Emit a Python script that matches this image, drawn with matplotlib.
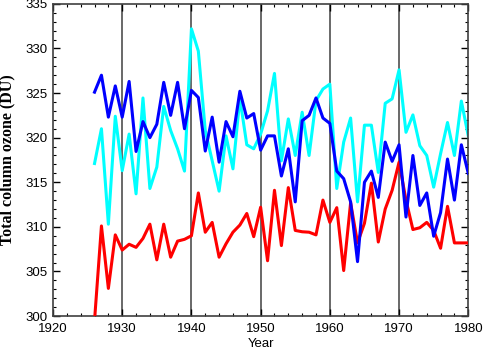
import numpy as np
import matplotlib
matplotlib.use("Agg")
import matplotlib.pyplot as plt
from matplotlib.ticker import MultipleLocator

years = np.arange(1926, 1981)

cyan_vals = [317.1, 321.0, 310.3, 322.4, 316.3, 320.4, 313.7, 324.45, 314.3, 316.7,
             323.5, 320.8, 318.75, 316.25, 332.2, 329.7, 320.8, 317.4, 314.0, 320.2,
             316.5, 324.4, 319.2, 318.75, 320.4, 323.0, 327.2, 317.4, 322.1, 318.0,
             322.85, 318.0, 324.15, 325.45, 326.0, 314.3, 319.5, 322.2, 312.8, 321.4,
             321.4, 316.1, 323.85, 324.35, 327.6, 320.6, 322.55, 319.1, 318.0, 314.45,
             318.2, 321.7, 318.0, 324.1, 320.2]

blue_vals = [325.1, 327.0, 322.3, 325.8, 322.3, 326.3, 318.45, 321.8, 320.0, 321.5,
             326.2, 322.5, 326.2, 321.0, 325.3, 324.5, 318.5, 322.3, 317.25, 321.8,
             320.1, 325.2, 322.2, 322.7, 318.6, 320.2, 320.2, 315.7, 318.75, 312.8,
             321.9, 322.5, 324.45, 322.2, 321.6, 316.25, 315.4, 312.8, 306.1, 315.0,
             316.25, 313.3, 319.5, 317.35, 319.2, 311.1, 318.0, 312.4, 313.8, 308.95,
             311.6, 317.6, 313.0, 319.2, 316.0]

red_vals = [299.5, 310.1, 303.1, 309.1, 307.4, 308.05, 307.7, 308.7, 310.3, 306.3,
            310.3, 306.6, 308.4, 308.6, 309.0, 313.8, 309.4, 310.5, 306.6, 308.1,
            309.4, 310.2, 311.5, 308.9, 312.2, 306.2, 314.1, 307.9, 314.4, 309.6,
            309.45, 309.4, 309.1, 313.0, 310.5, 312.15, 305.1, 312.7, 308.2, 310.4,
            314.9, 308.3, 312.0, 314.1, 317.25, 313.0, 309.7, 309.9, 310.5, 309.6,
            307.6, 312.3, 308.2, 308.2, 308.2]

decades = [1930, 1940, 1950, 1960, 1970]

fig = plt.figure(figsize=(4.84, 3.5), dpi=100)
ax = fig.add_axes([0.1095, 0.097, 0.858, 0.892])

for d in decades:
    ax.axvline(d, color="0.25", lw=1.1, zorder=1)

ax.plot(years, cyan_vals, color="#00FFFF", lw=2.2, zorder=2)
ax.plot(years, red_vals, color="#FF0000", lw=2.2, zorder=3)
ax.plot(years, blue_vals, color="#0000FF", lw=2.2, zorder=4)

ax.set_xlim(1920, 1980)
ax.set_ylim(300, 335)
ax.xaxis.set_major_locator(MultipleLocator(10))
ax.xaxis.set_minor_locator(MultipleLocator(2))
ax.yaxis.set_major_locator(MultipleLocator(5))
ax.yaxis.set_minor_locator(MultipleLocator(1))
ax.tick_params(which="both", direction="in", top=True, right=True,
               labelsize=9.5, colors="black")
ax.tick_params(which="major", length=5, width=1)
ax.tick_params(which="minor", length=2.5, width=0.8)
ax.tick_params(axis="x", which="major", pad=5)
ax.tick_params(axis="y", which="major", pad=4)
for lab in ax.get_xticklabels() + ax.get_yticklabels():
    lab.set_family("Liberation Sans")
for lab in ax.get_yticklabels():
    lab.set_va("center_baseline")

for sp in ax.spines.values():
    sp.set_color("0.25")
    sp.set_linewidth(1.2)

ax.set_xlabel("Year", family="Liberation Sans", fontsize=9.5, labelpad=2)
ax.set_ylabel("Total column ozone (DU)", family="Liberation Serif",
              fontweight="bold", fontsize=11.5, labelpad=7)

fig.savefig("out.png", dpi=100)
